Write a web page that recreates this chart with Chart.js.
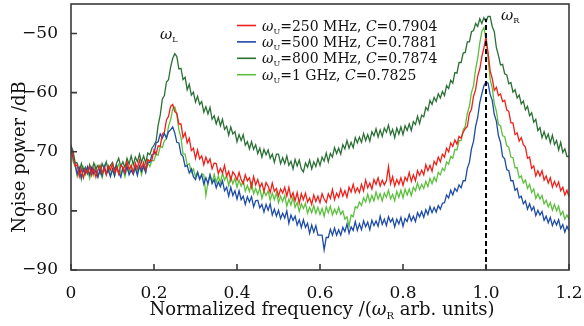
<!DOCTYPE html>
<html>
<head>
<meta charset="utf-8">
<script src="https://cdn.jsdelivr.net/npm/chart.js@4.4.1/dist/chart.umd.min.js"></script>
<style>
html, body { margin: 0; padding: 0; background: #fff; }
#wrap { width: 584px; height: 326px; }
</style>
</head>
<body>
<div id="wrap"><canvas id="chart" width="584" height="326"></canvas></div>
<script>
// frequency grid, 0 to 1.2 in steps of 0.005 (units of omega_R)
const freq = Array.from({ length: 241 }, (_, i) => i / 200);

// noise power (dB), one row = 0.05 of frequency
const p250 = [
  -69.5, -70.5, -72.4, -72.2, -74.2, -72.9, -74.4, -73.0, -73.6, -72.5,
  -74.0, -72.8, -74.3, -73.0, -72.3, -73.6, -72.7, -73.9, -72.4, -73.1,
  -72.0, -73.5, -72.6, -73.8, -72.3, -72.6, -73.5, -71.7, -73.0, -72.3,
  -73.5, -71.9, -72.8, -71.4, -72.8, -71.8, -73.0, -71.3, -71.6, -71.4,
  -69.7, -70.4, -69.0, -69.1, -67.0, -66.7, -64.6, -64.0, -62.3, -62.0,
  -63.2, -63.5, -65.3, -65.3, -67.6, -66.8, -68.5, -67.7, -69.8, -69.4,
  -71.1, -69.7, -71.2, -70.7, -72.2, -70.9, -71.9, -71.2, -72.9, -71.9,
  -72.0, -73.7, -72.8, -73.6, -72.3, -74.1, -73.3, -74.8, -73.4, -73.9,
  -74.8, -73.5, -74.7, -75.4, -73.9, -74.9, -74.4, -76.0, -74.2, -75.6,
  -74.7, -76.0, -75.3, -76.7, -75.2, -75.8, -76.9, -75.3, -76.7, -76.2,
  -77.5, -76.3, -77.0, -76.0, -77.5, -76.0, -77.8, -76.9, -78.3, -76.9,
  -78.7, -77.1, -78.1, -77.0, -78.5, -77.8, -78.9, -77.3, -78.4, -77.5,
  -78.6, -77.1, -78.0, -78.6, -77.1, -77.9, -76.4, -78.1, -77.0, -77.7,
  -76.3, -77.5, -76.6, -77.7, -76.0, -76.8, -75.5, -76.9, -76.1, -76.9,
  -75.5, -76.6, -74.8, -76.1, -75.3, -76.3, -74.7, -75.5, -74.4, -75.8,
  -74.8, -75.6, -74.9, -72.5, -75.4, -74.2, -75.8, -74.7, -75.5, -74.4,
  -75.7, -74.3, -74.9, -73.5, -75.0, -73.9, -74.9, -73.2, -74.0, -73.1,
  -73.9, -72.2, -73.2, -72.3, -73.3, -71.6, -72.2, -70.9, -71.7, -70.4,
  -70.9, -69.4, -70.0, -68.5, -69.1, -68.0, -68.7, -67.4, -67.7, -66.7,
  -66.1, -65.7, -63.5, -62.8, -60.6, -59.5, -57.2, -56.0, -53.9, -52.4,
  -50.6, -53.2, -56.3, -57.6, -59.6, -59.1, -60.5, -60.2, -61.5, -61.3,
  -62.9, -63.2, -65.1, -65.1, -67.1, -66.8, -68.2, -67.6, -68.8, -69.2,
  -71.1, -70.9, -72.8, -72.4, -74.1, -73.2, -74.1, -73.2, -74.8, -74.1,
  -75.3, -74.4, -76.0, -75.0, -75.9, -75.1, -76.6, -76.0, -77.3, -76.5,
  -77.6
];
const p500 = [
  -68.8, -71.0, -72.1, -73.8, -72.7, -74.4, -73.0, -73.6, -72.5, -73.9,
  -72.7, -73.7, -73.2, -74.3, -72.9, -74.0, -72.4, -73.8, -73.1, -74.2,
  -72.9, -74.0, -72.4, -73.5, -74.3, -72.7, -73.7, -72.5, -73.9, -73.1,
  -73.8, -72.7, -74.0, -72.4, -73.3, -72.5, -73.5, -71.7, -71.8, -70.5,
  -70.4, -68.5, -68.3, -67.0, -67.7, -66.9, -67.7, -66.6, -66.3, -65.8,
  -66.8, -68.4, -68.5, -70.4, -70.8, -72.5, -72.3, -73.6, -72.9, -74.2,
  -74.7, -73.5, -74.6, -73.9, -75.5, -74.4, -75.4, -73.9, -75.4, -74.7,
  -76.1, -75.1, -75.9, -74.9, -76.6, -76.0, -77.5, -76.0, -77.4, -76.6,
  -78.0, -76.6, -78.1, -77.5, -78.9, -77.6, -78.5, -77.6, -79.3, -78.3,
  -78.2, -79.5, -78.9, -80.2, -78.9, -79.9, -78.8, -80.7, -79.7, -80.9,
  -79.9, -81.3, -80.4, -81.2, -80.0, -82.1, -80.7, -81.6, -80.9, -82.4,
  -81.5, -82.8, -81.5, -82.8, -82.1, -83.8, -82.4, -83.6, -82.5, -84.1,
  -84.1, -84.1, -86.6, -84.5, -84.5, -83.1, -84.1, -82.9, -84.1, -83.2,
  -84.1, -82.8, -83.5, -82.2, -83.8, -82.7, -83.3, -81.8, -83.3, -82.2,
  -83.2, -81.7, -82.7, -81.9, -83.2, -81.6, -82.5, -81.7, -82.6, -80.9,
  -82.3, -81.4, -82.5, -81.0, -81.9, -81.3, -82.7, -81.4, -82.2, -81.1,
  -82.6, -81.3, -81.8, -80.6, -81.7, -80.9, -81.8, -80.3, -81.0, -80.1,
  -81.1, -79.8, -80.6, -79.3, -80.3, -79.4, -80.2, -79.1, -79.7, -78.7,
  -78.6, -77.3, -77.8, -76.5, -77.3, -76.2, -76.7, -75.6, -76.1, -74.9,
  -74.9, -72.8, -71.8, -69.5, -68.2, -65.7, -64.2, -61.7, -60.2, -58.8,
  -58.2, -58.4, -60.3, -61.3, -63.7, -64.8, -67.3, -68.4, -70.8, -71.2,
  -73.0, -73.2, -74.9, -74.9, -76.5, -76.2, -77.8, -77.5, -78.8, -78.3,
  -79.7, -78.8, -79.9, -79.3, -80.8, -79.9, -80.7, -80.1, -81.6, -80.9,
  -82.0, -81.1, -82.5, -81.6, -82.4, -81.5, -83.0, -82.3, -83.6, -82.6,
  -83.4
];
const p800 = [
  -69.0, -69.9, -71.8, -71.9, -73.4, -72.0, -73.2, -72.6, -73.7, -72.2,
  -73.3, -71.9, -72.9, -72.3, -73.6, -72.0, -72.9, -71.7, -73.2, -72.3,
  -71.8, -73.1, -71.9, -71.1, -72.5, -71.7, -72.7, -71.1, -72.1, -70.7,
  -72.2, -70.9, -71.7, -70.4, -71.8, -70.7, -71.9, -70.2, -70.5, -69.4,
  -68.9, -68.2, -65.5, -63.8, -61.1, -60.5, -58.2, -57.8, -55.7, -54.2,
  -53.4, -53.9, -56.0, -55.9, -57.8, -57.4, -59.5, -58.6, -60.4, -59.9,
  -61.6, -60.6, -62.0, -61.5, -63.3, -62.4, -63.6, -62.5, -64.5, -63.9,
  -65.3, -64.2, -65.6, -64.5, -66.2, -65.7, -67.2, -65.8, -67.0, -66.6,
  -68.3, -67.1, -68.1, -67.1, -68.9, -68.3, -69.5, -68.3, -69.6, -68.8,
  -70.3, -69.4, -70.9, -69.6, -70.5, -69.7, -71.1, -70.4, -71.8, -70.4,
  -70.4, -72.0, -71.0, -72.0, -70.7, -72.3, -71.6, -72.9, -71.3, -72.4,
  -71.4, -72.9, -73.4, -71.9, -72.6, -71.4, -72.9, -71.7, -72.5, -71.2,
  -72.3, -70.9, -71.6, -70.2, -71.7, -70.3, -70.9, -69.3, -70.3, -69.4,
  -70.4, -68.8, -69.5, -68.1, -69.4, -68.4, -69.3, -67.6, -68.5, -67.5,
  -68.4, -66.9, -68.1, -67.1, -68.2, -66.6, -67.3, -66.1, -67.5, -66.3,
  -67.4, -66.0, -66.7, -65.5, -67.1, -66.2, -67.6, -66.0, -67.0, -65.8,
  -67.1, -65.6, -66.4, -65.3, -66.4, -64.9, -65.4, -64.0, -65.2, -63.8,
  -64.1, -62.5, -63.0, -61.3, -62.0, -60.8, -61.5, -60.2, -60.9, -59.8,
  -60.5, -58.8, -59.3, -57.9, -58.4, -56.6, -56.7, -54.9, -54.9, -53.3,
  -53.2, -51.4, -51.4, -49.7, -49.5, -48.3, -48.8, -47.5, -48.3, -47.3,
  -48.0, -47.1, -47.1, -48.8, -49.7, -52.4, -53.7, -55.3, -55.2, -56.8,
  -57.0, -58.5, -58.3, -59.9, -59.5, -60.9, -60.4, -61.9, -61.4, -62.9,
  -62.3, -63.9, -63.4, -65.0, -64.5, -66.4, -65.9, -67.6, -66.6, -67.8,
  -67.0, -68.5, -67.2, -68.8, -68.1, -69.7, -68.4, -70.1, -69.5, -70.8,
  -70.8
];
const p1000 = [
  -69.4, -71.7, -72.4, -74.2, -73.0, -74.7, -72.7, -73.9, -73.1, -74.5,
  -72.8, -74.0, -72.4, -74.2, -73.2, -74.4, -72.9, -73.6, -72.5, -74.0,
  -73.1, -74.2, -72.7, -72.1, -73.8, -72.9, -74.2, -72.5, -73.5, -72.3,
  -73.7, -72.2, -73.4, -72.5, -73.9, -72.4, -73.4, -71.8, -72.5, -71.5,
  -71.5, -70.3, -70.6, -69.1, -69.3, -68.1, -67.8, -65.7, -64.6, -62.8,
  -62.4, -63.7, -66.3, -67.6, -70.4, -70.4, -72.3, -72.0, -73.5, -72.9,
  -74.2, -73.4, -74.7, -73.7, -73.9, -77.4, -75.2, -73.9, -75.1, -73.8,
  -75.2, -74.1, -75.3, -73.6, -74.8, -74.0, -75.7, -74.3, -75.4, -74.5,
  -76.0, -74.8, -75.8, -74.9, -76.7, -75.7, -76.7, -75.3, -77.1, -76.2,
  -77.2, -76.1, -77.9, -76.7, -77.4, -76.6, -78.2, -77.0, -78.1, -76.9,
  -78.6, -77.5, -78.4, -77.4, -79.2, -78.0, -79.0, -77.7, -79.4, -78.6,
  -80.1, -78.8, -79.6, -78.7, -80.4, -79.4, -80.3, -79.1, -80.4, -79.4,
  -80.6, -79.6, -80.9, -79.3, -80.3, -79.2, -80.7, -79.7, -80.5, -79.4,
  -80.6, -80.0, -81.4, -81.0, -82.6, -80.7, -81.0, -79.3, -79.5, -78.5,
  -79.1, -77.8, -78.5, -77.2, -78.5, -77.4, -78.3, -76.8, -78.0, -77.1,
  -78.3, -77.0, -77.7, -76.5, -78.0, -77.2, -78.3, -76.7, -77.7, -76.5,
  -77.8, -76.3, -77.3, -76.3, -77.4, -76.0, -76.6, -75.3, -76.4, -75.5,
  -76.2, -75.0, -75.9, -74.5, -75.4, -74.3, -75.0, -73.5, -73.9, -72.8,
  -73.2, -71.7, -72.1, -70.8, -71.1, -69.6, -69.7, -68.1, -68.1, -66.3,
  -65.7, -63.5, -62.3, -60.0, -58.8, -56.0, -54.2, -51.6, -49.6, -49.0,
  -51.0, -54.2, -57.7, -59.2, -61.9, -63.1, -65.4, -65.6, -67.3, -67.4,
  -69.0, -69.2, -70.9, -71.0, -72.7, -72.7, -74.4, -74.1, -75.3, -74.8,
  -76.2, -75.5, -76.9, -76.3, -77.9, -77.1, -78.0, -77.4, -78.8, -78.2,
  -79.3, -78.6, -79.9, -78.9, -80.0, -79.2, -80.7, -80.1, -81.4, -80.7,
  -81.4
];

const uFreq = ['250 MHz', '500 MHz', '800 MHz', '1 GHz'];
const cValues = ['0.7904', '0.7881', '0.7874', '0.7825'];
const seriesColors = ['#ef2019', '#1d4ba8', '#2a7035', '#5cbf3d'];
const series = [p250, p500, p800, p1000];

// dashed marker at omega_R
const markX = [1.0, 1.0];
const markY = [-90, -47.5];

const xTicks = [0, 0.2, 0.4, 0.6, 0.8, 1.0, 1.2];
const xTickLabels = ['0', '0.2', '0.4', '0.6', '0.8', '1.0', '1.2'];
const yTicks = [-90, -80, -70, -60, -50];
const yTickLabels = ['\u221290', '\u221280', '\u221270', '\u221260', '\u221250'];

const serif = '"DejaVu Serif", serif';

function drawRuns(ctx, runs, x, y) {
  runs.forEach(r => {
    ctx.font = r.font;
    ctx.fillText(r.t, x, y + (r.dy || 0));
    x += ctx.measureText(r.t).width;
  });
  return x;
}
function runsWidth(ctx, runs) {
  let w = 0;
  runs.forEach(r => { ctx.font = r.font; w += ctx.measureText(r.t).width; });
  return w;
}

const decor = {
  id: 'decor',
  afterDatasetsDraw(chart) {
    const { ctx, chartArea: a, scales: { x, y } } = chart;
    ctx.save();
    ctx.strokeStyle = '#3a3a3a';
    ctx.lineWidth = 1.6;
    ctx.strokeRect(a.left, a.top, a.right - a.left, a.bottom - a.top);
    ctx.beginPath();
    xTicks.forEach(v => {
      const px = x.getPixelForValue(v);
      ctx.moveTo(px, a.bottom);
      ctx.lineTo(px, a.bottom - 6);
    });
    yTicks.forEach(v => {
      const py = y.getPixelForValue(v);
      ctx.moveTo(a.left, py);
      ctx.lineTo(a.left + 6, py);
    });
    ctx.stroke();

    ctx.fillStyle = '#111';
    ctx.textBaseline = 'alphabetic';
    ctx.textAlign = 'left';

    // legend
    series.forEach((s, i) => {
      const by = 30.5 + i * 16.4;
      ctx.strokeStyle = seriesColors[i];
      ctx.lineWidth = 1.6;
      ctx.beginPath();
      ctx.moveTo(237, by - 5);
      ctx.lineTo(256, by - 5);
      ctx.stroke();
      drawRuns(ctx, [
        { t: '\u03c9', font: 'italic 14px ' + serif },
        { t: 'U', font: '8px ' + serif, dy: 3 },
        { t: '=' + uFreq[i] + ', ', font: '14px ' + serif },
        { t: 'C', font: 'italic 14px ' + serif },
        { t: '=' + cValues[i], font: '14px ' + serif }
      ], 262, by);
    });

    // peak labels
    drawRuns(ctx, [
      { t: '\u03c9', font: 'italic 15px ' + serif },
      { t: 'L', font: '8px ' + serif, dy: 3 }
    ], 160, 39);
    drawRuns(ctx, [
      { t: '\u03c9', font: 'italic 15px ' + serif },
      { t: 'R', font: '8px ' + serif, dy: 3 }
    ], 501, 20);

    // x title
    const xt = [
      { t: 'Normalized frequency /(', font: '18px ' + serif },
      { t: '\u03c9', font: 'italic 18px ' + serif },
      { t: 'R', font: '10px ' + serif, dy: 4 },
      { t: ' arb. units)', font: '18px ' + serif }
    ];
    drawRuns(ctx, xt, 322 - runsWidth(ctx, xt) / 2, 315);

    // y title
    ctx.translate(25, 157);
    ctx.rotate(-Math.PI / 2);
    ctx.font = '18px ' + serif;
    ctx.textAlign = 'center';
    ctx.fillText('Noise power /dB', 0, 0);
    ctx.restore();
  }
};

const datasets = [{
  data: markX.map((v, i) => ({ x: v, y: markY[i] })),
  borderColor: '#000',
  borderWidth: 2,
  borderDash: [5, 3],
  pointRadius: 0
}].concat(series.map((s, i) => ({
  data: freq.map((f, j) => ({ x: f, y: s[j] })),
  borderColor: seriesColors[i],
  borderWidth: 1.3,
  pointRadius: 0,
  tension: 0
})));

new Chart(document.getElementById('chart').getContext('2d'), {
  type: 'line',
  data: { datasets: datasets },
  options: {
    responsive: false,
    animation: false,
    layout: { padding: { top: 4, right: 15, left: 0, bottom: 0 } },
    plugins: { legend: { display: false }, tooltip: { enabled: false } },
    scales: {
      x: {
        type: 'linear',
        min: 0,
        max: 1.2,
        grid: { display: false },
        border: { display: false },
        afterBuildTicks: (scale) => { scale.ticks = xTicks.map(v => ({ value: v })); },
        afterFit: (scale) => {
          scale.height = 56;
          scale.paddingLeft = 0;
          scale.paddingRight = 0;
        },
        ticks: {
          color: '#111',
          padding: 5,
          maxRotation: 0,
          font: { family: serif, size: 17 },
          callback: (v) => xTickLabels[xTicks.indexOf(v)]
        }
      },
      y: {
        min: -90,
        max: -45,
        grid: { display: false },
        border: { display: false },
        afterBuildTicks: (scale) => { scale.ticks = yTicks.map(v => ({ value: v })); },
        afterFit: (scale) => {
          scale.width = 71;
          scale.paddingTop = 0;
          scale.paddingBottom = 0;
        },
        ticks: {
          color: '#111',
          padding: 5,
          font: { family: serif, size: 17 },
          callback: (v) => yTickLabels[yTicks.indexOf(v)]
        }
      }
    }
  },
  plugins: [decor]
});
</script>
</body>
</html>
